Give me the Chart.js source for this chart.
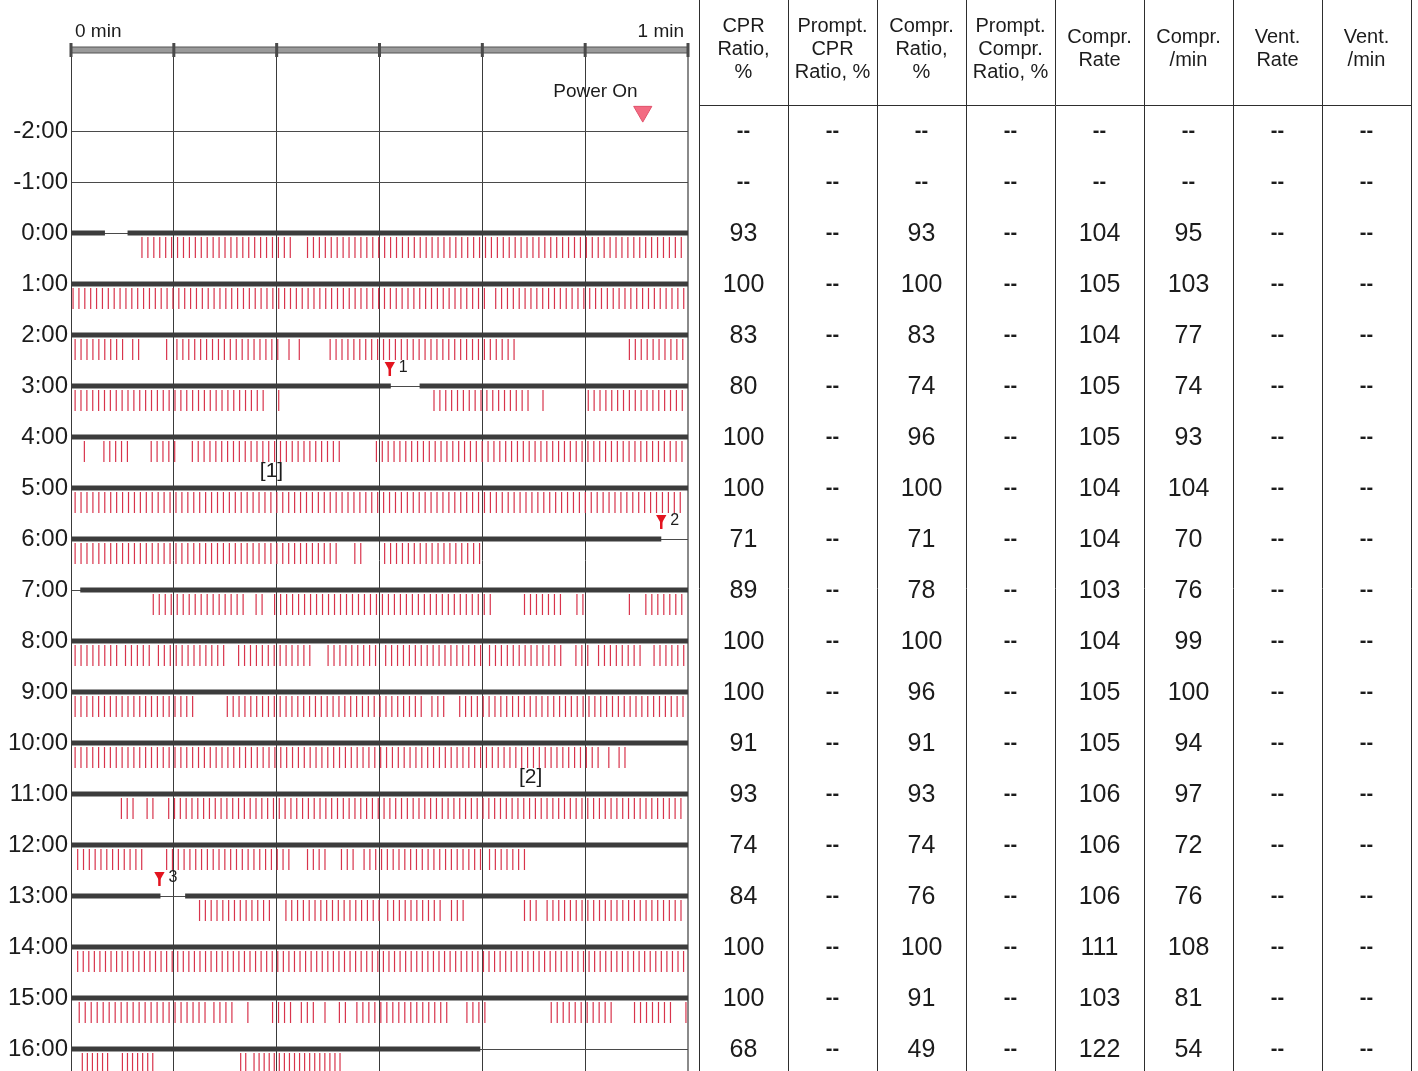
<!DOCTYPE html>
<html>
<head>
<meta charset="utf-8">
<title>CPR report</title>
<script src="https://cdn.jsdelivr.net/npm/chart.js@4.4.1/dist/chart.umd.min.js"></script>
<style>
  html, body { margin: 0; padding: 0; background: #fff; }
  #wrap { position: relative; width: 1418px; height: 1071px; overflow: hidden; background: #fff; }
  #strip { position: absolute; left: 0; top: 0; }
  #table { position: absolute; left: 694px; top: 0; }
</style>
</head>
<body>
<div id="wrap">
  <canvas id="strip" width="694" height="1071"></canvas>
  <canvas id="table" width="724" height="1071"></canvas>
</div>
<script>
// minute rows of the strip chart
const rows = [-2, -1, 0, 1, 2, 3, 4, 5, 6, 7, 8, 9, 10, 11, 12, 13, 14, 15, 16];
const rowLabels = ['-2:00', '-1:00', '0:00', '1:00', '2:00', '3:00', '4:00', '5:00', '6:00', '7:00',
  '8:00', '9:00', '10:00', '11:00', '12:00', '13:00', '14:00', '15:00', '16:00'];

// table columns (null = "--")
const colHeaders = [
  ['CPR', 'Ratio,', '%'],
  ['Prompt.', 'CPR', 'Ratio, %'],
  ['Compr.', 'Ratio,', '%'],
  ['Prompt.', 'Compr.', 'Ratio, %'],
  ['Compr.', 'Rate'],
  ['Compr.', '/min'],
  ['Vent.', 'Rate'],
  ['Vent.', '/min']
];
const colKeys = ['cprRatio', 'promptCpr', 'comprRatio', 'promptCompr', 'comprRate', 'comprMin', 'ventRate', 'ventMin'];
const n = null;
const cprRatio    = [n, n, 93, 100, 83, 80, 100, 100, 71, 89, 100, 100, 91, 93, 74, 84, 100, 100, 68];
const promptCpr   = [n, n, n, n, n, n, n, n, n, n, n, n, n, n, n, n, n, n, n];
const comprRatio  = [n, n, 93, 100, 83, 74, 96, 100, 71, 78, 100, 96, 91, 93, 74, 76, 100, 91, 49];
const promptCompr = [n, n, n, n, n, n, n, n, n, n, n, n, n, n, n, n, n, n, n];
const comprRate   = [n, n, 104, 105, 104, 105, 105, 104, 104, 103, 104, 105, 105, 106, 106, 106, 111, 103, 122];
const comprMin    = [n, n, 95, 103, 77, 74, 93, 104, 70, 76, 99, 100, 94, 97, 72, 76, 108, 81, 54];
const ventRate    = [n, n, n, n, n, n, n, n, n, n, n, n, n, n, n, n, n, n, n];
const ventMin     = [n, n, n, n, n, n, n, n, n, n, n, n, n, n, n, n, n, n, n];

// thick bar: seconds within each minute row [start, end]
const activeBars = [
  [], [],
  [[0, 3.3], [5.5, 60]],
  [[0, 60]],
  [[0, 60]],
  [[0, 31.1], [33.9, 60]],
  [[0, 60]],
  [[0, 60]],
  [[0, 57.4]],
  [[0.9, 60]],
  [[0, 60]],
  [[0, 60]],
  [[0, 60]],
  [[0, 60]],
  [[0, 60]],
  [[0, 8.7], [11.1, 60]],
  [[0, 60]],
  [[0, 60]],
  [[0, 39.8]]
];

const compressionRuns = [
  [], [],
  [[6.9, 21.8], [23.0, 59.8]],
  [[0.2, 40.3], [41.3, 59.8]],
  [[0.4, 5.2], [6.0, 6.9], [9.3, 9.3], [10.3, 20.2], [21.2, 21.2], [22.2, 22.2], [25.2, 43.5], [54.3, 59.8]],
  [[0.4, 19.0], [20.2, 20.2], [35.3, 44.5], [45.9, 45.9], [50.3, 59.8]],
  [[1.3, 1.3], [3.2, 5.7], [7.8, 10.1], [11.8, 26.3], [29.7, 59.8]],
  [[0.4, 59.8]],
  [[0.4, 26.3], [27.6, 28.7], [30.5, 39.8]],
  [[8.0, 16.9], [18.0, 18.7], [19.8, 40.8], [44.1, 48.0], [49.2, 49.8], [54.3, 54.3], [55.9, 59.8]],
  [[0.4, 4.6], [5.3, 8.0], [8.5, 15.0], [16.3, 23.7], [25.0, 30.0], [30.6, 40.0], [40.7, 48.0], [49.1, 50.4], [51.3, 55.7], [56.7, 59.8]],
  [[0.4, 12.0], [15.2, 34.1], [35.1, 36.7], [37.8, 59.8]],
  [[0.4, 51.5], [52.3, 52.3], [53.3, 54.3]],
  [[4.9, 6.5], [7.4, 8.5], [9.5, 59.8]],
  [[0.65, 7.0], [9.3, 21.5], [23.0, 25.0], [26.3, 27.8], [28.5, 40.0], [40.7, 44.3]],
  [[12.5, 19.8], [20.9, 30.0], [30.8, 36.2], [37.0, 38.5], [44.1, 45.5], [46.3, 59.8]],
  [[0.65, 59.8]],
  [[0.8, 13.3], [13.9, 16.1], [17.2, 17.2], [19.6, 21.7], [22.4, 24.1], [24.7, 24.7], [26.1, 26.7], [27.8, 37.0], [38.5, 40.7], [46.7, 52.6], [54.8, 58.3], [59.8, 59.8]],
  [[1.1, 3.9], [5.0, 8.0], [16.5, 17.2], [17.8, 26.5]]
];

// events
const eventTimes = [31.0, 57.4, 8.6];
const eventRows = [3, 6, 13];
const eventNames = ['1', '2', '3'];
const powerOnTime = 55.6;
const powerOnRow = -2;
const noteTexts = ['[1]', '[2]'];
const noteTimes = [19.5, 44.7];
const noteRows = [4, 10];

const FONT = "'Liberation Sans', Arial, Helvetica, sans-serif";
const TEXT = '#1c1c1c';

// build points
let barPoints = [];
activeBars.forEach((segs, i) => {
  segs.forEach(s => {
    barPoints.push({ x: s[0], y: rows[i] }, { x: s[1], y: rows[i] }, { x: s[1], y: null });
  });
});

let compPoints = [];
compressionRuns.forEach((runs, i) => {
  const step = comprRate[i] ? 60 / comprRate[i] : 0.6;
  runs.forEach(r => {
    for (let t = r[0]; t <= r[1] + 0.001; t += step) {
      compPoints.push({ x: t, y: rows[i] + 0.284 });
    }
  });
});

const eventPts = eventTimes.map((t, i) => ({ x: t, y: eventRows[i] - 0.41 }));
const stemPts = eventTimes.map((t, i) => ({ x: t, y: eventRows[i] - 0.275 }));

var stripText = {
  id: 'stripText',
  afterDraw: function(chart) {
    const ctx = chart.ctx;
    const xs = chart.scales.x, ys = chart.scales.y;
    const top = chart.chartArea.top;
    const x0 = xs.getPixelForValue(0), x1 = xs.getPixelForValue(60);
    ctx.save();
    // top time bar
    ctx.fillStyle = '#9a9a9a';
    ctx.strokeStyle = '#555';
    ctx.lineWidth = 1;
    ctx.fillRect(x0, top - 3, x1 - x0, 6);
    ctx.strokeRect(x0, top - 3, x1 - x0, 6);
    ctx.fillStyle = '#4a4a4a';
    for (let s = 0; s <= 60; s += 10) {
      const px = xs.getPixelForValue(s);
      ctx.fillRect(px - 1.5, top - 7, 3, 14);
    }
    ctx.fillStyle = TEXT;
    ctx.font = '19px ' + FONT;
    ctx.textBaseline = 'middle';
    ctx.textAlign = 'left';
    ctx.fillText('0 min', x0 + 4, 32);
    ctx.textAlign = 'right';
    ctx.fillText('1 min', x1 - 4, 32);
    // power on
    ctx.textAlign = 'center';
    ctx.font = '19px ' + FONT;
    ctx.fillText('Power On', xs.getPixelForValue(powerOnTime - 4.6), ys.getPixelForValue(powerOnRow - 0.765));
    // event numbers
    ctx.font = '16px ' + FONT;
    ctx.textAlign = 'left';
    eventTimes.forEach((t, i) => {
      ctx.fillText(eventNames[i], xs.getPixelForValue(t) + 9, ys.getPixelForValue(eventRows[i] - 0.36));
    });
    // notes
    ctx.font = '21px ' + FONT;
    ctx.textAlign = 'center';
    noteTexts.forEach((s, i) => {
      ctx.fillText(s, xs.getPixelForValue(noteTimes[i]), ys.getPixelForValue(noteRows[i] + 0.68));
    });
    ctx.restore();
  }
};

var stripChart = new Chart(document.getElementById('strip'), {
  type: 'scatter',
  data: {
    datasets: [
      {
        type: 'line',
        label: 'CPR',
        data: barPoints,
        borderColor: '#3c3c3c',
        borderWidth: 5,
        borderCapStyle: 'butt',
        pointRadius: 0,
        spanGaps: false,
        order: 4
      },
      {
        label: 'Compressions',
        data: compPoints,
        pointStyle: 'line',
        pointRotation: 90,
        pointRadius: 10.5,
        pointBorderColor: '#d8344c',
        pointBorderWidth: 1.2,
        order: 3
      },
      {
        label: 'Event stem',
        data: stemPts,
        pointStyle: 'line',
        pointRotation: 90,
        pointRadius: 4,
        pointBorderColor: '#e3141f',
        pointBorderWidth: 2.5,
        order: 2
      },
      {
        label: 'Events',
        data: eventPts,
        pointStyle: 'triangle',
        pointRotation: 180,
        pointRadius: 6,
        pointBackgroundColor: '#e3141f',
        pointBorderColor: '#e3141f',
        pointBorderWidth: 0,
        order: 1
      },
      {
        label: 'Power On',
        data: [{ x: powerOnTime, y: powerOnRow - 0.38 }],
        pointStyle: 'triangle',
        pointRotation: 180,
        pointRadius: 10.5,
        pointBackgroundColor: '#f36b82',
        pointBorderColor: '#e0506a',
        pointBorderWidth: 1,
        order: 1
      }
    ]
  },
  options: {
    responsive: false,
    animation: false,
    events: [],
    layout: { autoPadding: false, padding: { left: 0, right: 6, top: 0, bottom: 0 } },
    plugins: { legend: { display: false }, tooltip: { enabled: false } },
    scales: {
      x: {
        type: 'linear',
        position: 'top',
        min: 0,
        max: 60,
        ticks: { stepSize: 10, display: false },
        grid: {
          drawTicks: false,
          color: ctx => ctx.tick && ctx.tick.value === 60 ? '#8a8a8a' : '#3a3a3a',
          lineWidth: ctx => ctx.tick && ctx.tick.value === 60 ? 2 : 1
        },
        border: { display: false },
        afterFit: s => { s.height = 50; s.paddingLeft = 0; s.paddingRight = 0; }
      },
      y: {
        type: 'linear',
        reverse: true,
        min: -2 - 81 / 51,
        max: -2 + 940 / 51,
        afterBuildTicks: s => { s.ticks = rows.map(v => ({ value: v })); },
        ticks: {
          padding: 3,
          color: TEXT,
          font: { family: FONT, size: 24 },
          callback: v => rowLabels[rows.indexOf(v)]
        },
        grid: { drawTicks: false, color: '#4a4a4a', lineWidth: 1 },
        border: { display: true, color: '#3a3a3a' },
        afterFit: s => { s.width = 71; s.paddingTop = 0; s.paddingBottom = 0; }
      }
    }
  },
  plugins: [stripText]
});

// ---- table ----
const colData = [cprRatio, promptCpr, comprRatio, promptCompr, comprRate, comprMin, ventRate, ventMin];
let cells = [];
colData.forEach((arr, c) => {
  arr.forEach((v, i) => {
    cells.push({ x: colKeys[c], y: rows[i], v: v });
  });
});

var tableText = {
  id: 'tableText',
  afterDatasetsDraw: function(chart) {
    const ctx = chart.ctx;
    const xs = chart.scales.x;
    const meta = chart.getDatasetMeta(0);
    ctx.save();
    ctx.fillStyle = TEXT;
    ctx.textAlign = 'center';
    ctx.textBaseline = 'middle';
    // headers
    ctx.font = '20px ' + FONT;
    colHeaders.forEach((lines, c) => {
      const px = xs.getPixelForValue(c);
      const y0 = 49 - (lines.length - 1) * 23 / 2;
      lines.forEach((s, k) => ctx.fillText(s, px, y0 + k * 23));
    });
    // values
    meta.data.forEach((pt, i) => {
      const v = cells[i].v;
      if (v === null) {
        ctx.font = 'bold 20px ' + FONT;
        ctx.fillText('--', pt.x, pt.y);
      } else {
        ctx.font = '25px ' + FONT;
        ctx.fillText(String(v), pt.x, pt.y + 1);
      }
    });
    ctx.restore();
  }
};

var tableChart = new Chart(document.getElementById('table'), {
  type: 'scatter',
  data: {
    datasets: [{ label: 'Table', data: cells, pointRadius: 0 }]
  },
  options: {
    responsive: false,
    animation: false,
    events: [],
    layout: { autoPadding: false, padding: { left: 5, right: 7, top: 0, bottom: 0 } },
    plugins: { legend: { display: false }, tooltip: { enabled: false } },
    scales: {
      x: {
        type: 'category',
        labels: colKeys,
        position: 'top',
        offset: true,
        ticks: { display: false },
        grid: { offset: true, color: '#2e2e2e', lineWidth: 1, drawTicks: true, tickLength: 105 },
        border: { display: true, color: '#2e2e2e' },
        afterFit: s => { s.height = 105; s.paddingLeft = 0; s.paddingRight = 0; }
      },
      y: {
        type: 'linear',
        reverse: true,
        min: -2 - 26 / 51,
        max: -2 + 940 / 51,
        display: false
      }
    }
  },
  plugins: [tableText]
});
</script>
</body>
</html>
